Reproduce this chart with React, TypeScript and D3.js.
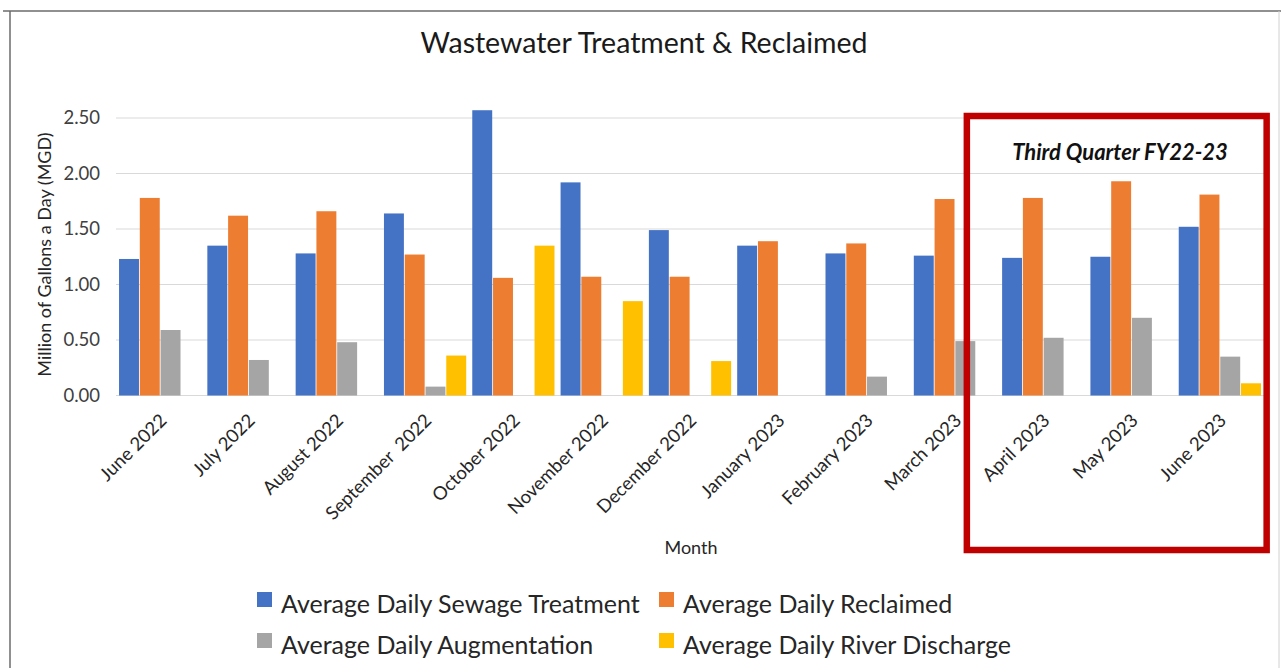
import React, { useEffect } from 'react';
import * as d3 from 'd3';

const months = [
  'June 2022', 'July 2022', 'August 2022', 'September  2022', 'October 2022',
  'November 2022', 'December 2022', 'January 2023', 'February 2023', 'March 2023',
  'April 2023', 'May 2023', 'June 2023',
];

const seriesNames = [
  'Average Daily Sewage Treatment',
  'Average Daily Reclaimed',
  'Average Daily Augmentation',
  'Average Daily River Discharge',
];

const sewage = [1.23, 1.35, 1.28, 1.64, 2.57, 1.92, 1.49, 1.35, 1.28, 1.26, 1.24, 1.25, 1.52];
const reclaimed = [1.78, 1.62, 1.66, 1.27, 1.06, 1.07, 1.07, 1.39, 1.37, 1.77, 1.78, 1.93, 1.81];
const augmentation = [0.59, 0.32, 0.48, 0.08, 0, 0, 0, 0, 0.17, 0.49, 0.52, 0.70, 0.35];
const riverDischarge = [0, 0, 0, 0.36, 1.35, 0.85, 0.31, 0, 0, 0, 0, 0, 0.11];

const yTicks = [0, 0.5, 1, 1.5, 2, 2.5];
const highlightMonths = ['April 2023', 'May 2023', 'June 2023'];

const colors = ['#4472C4', '#ED7D31', '#A5A5A5', '#FFC000'];
const FONT = 'Lato, "Open Sans", sans-serif';

export default function App() {
  useEffect(() => {
    document.body.style.margin = '0';
  }, []);

  const W = 1281;
  const H = 668;
  const values = [sewage, reclaimed, augmentation, riverDischarge];

  const x = d3.scaleBand<string>().domain(months).range([116, 1264]).paddingInner(0.05).paddingOuter(0.025);
  const x1 = d3.scaleBand<number>().domain(d3.range(seriesNames.length)).range([0, x.bandwidth()]).padding(0.04);
  const y = d3.scaleLinear().domain([0, 2.5]).range([395.5, 118]);
  const fmt = d3.format('.2f');

  // red box around the last quarter
  const hx0 = x(highlightMonths[0])! - x.step() * 0.39;
  const hx1 = x(highlightMonths[highlightMonths.length - 1])! + x.bandwidth() + x.step() * 0.055;

  const legendRows = [
    [{ i: 0, x: 257 }, { i: 1, x: 659 }],
    [{ i: 2, x: 257 }, { i: 3, x: 659 }],
  ];

  return (
    <svg width={W} height={H} style={{ display: 'block', background: '#fff' }} fontFamily={FONT}>
      <line x1={3} x2={W} y1={11} y2={11} stroke="#6b6b6b" strokeWidth={1.5} />
      <line x1={10} x2={10} y1={11} y2={H} stroke="#6b6b6b" strokeWidth={1.5} />
      <line x1={1279} x2={1279} y1={11} y2={H} stroke="#d0d0d0" strokeWidth={1} />

      <text x={644} y={53} textAnchor="middle" fontSize={28.5} fill="#1a1a1a">
        Wastewater Treatment &amp; Reclaimed
      </text>

      {yTicks.map(t => (
        <g key={t}>
          <line x1={116} x2={1264} y1={y(t)} y2={y(t)} stroke="#d9d9d9" strokeWidth={1.2} />
          <text x={100} y={y(t)} dy="0.35em" textAnchor="end" fontSize={18.5} fill="#404040">
            {fmt(t)}
          </text>
        </g>
      ))}

      <text
        transform={`translate(51, ${y(1.27)}) rotate(-90)`}
        textAnchor="middle"
        fontSize={18}
        fill="#262626"
      >
        Million of Gallons a Day (MGD)
      </text>

      {months.map((m, mi) => (
        <g key={m} transform={`translate(${x(m)},0)`}>
          {values.map((vals, si) =>
            vals[mi] > 0 ? (
              <rect
                key={si}
                x={x1(si)}
                y={y(vals[mi])}
                width={x1.bandwidth()}
                height={y(0) - y(vals[mi])}
                fill={colors[si]}
              />
            ) : null
          )}
        </g>
      ))}

      {months.map(m => {
        const cx = x(m)! + x.bandwidth() / 2;
        return (
          <text
            key={m}
            transform={`translate(${cx + 3}, 417) rotate(-45)`}
            textAnchor="end"
            dy="0.35em"
            fontSize={18.5}
            fill="#262626"
            style={{ whiteSpace: 'pre' }}
          >
            {m}
          </text>
        );
      })}

      <text x={691} y={554} textAnchor="middle" fontSize={18} fill="#262626">
        Month
      </text>

      <rect x={hx0} y={116} width={hx1 - hx0} height={434} fill="none" stroke="#C00000" strokeWidth={6.5} />
      <text
        x={1120}
        y={160}
        textAnchor="middle"
        fontSize={22}
        fontWeight="bold"
        fontStyle="italic"
        fill="#111"
      >
        Third Quarter FY22-23
      </text>

      {legendRows.map((row, ri) =>
        row.map(item => (
          <g key={item.i} transform={`translate(${item.x}, ${613 + ri * 41})`}>
            <rect x={0} y={-21} width={15} height={15} fill={colors[item.i]} />
            <text x={24} y={0} fontSize={25} fill="#262626">
              {seriesNames[item.i]}
            </text>
          </g>
        ))
      )}
    </svg>
  );
}
